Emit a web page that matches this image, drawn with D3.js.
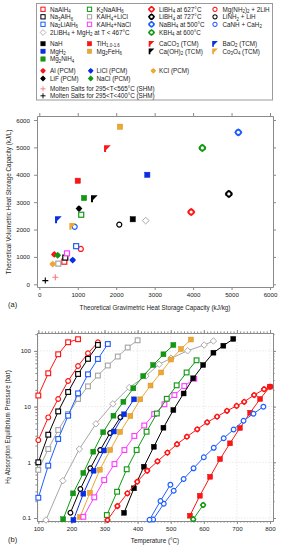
<!DOCTYPE html>
<html><head><meta charset="utf-8">
<script src="https://cdn.jsdelivr.net/npm/d3@7"></script>
<style>body{margin:0;background:#fff}svg{display:block;font-family:"Liberation Sans",Arial,sans-serif}</style>
</head><body><svg id="c" width="283" height="550"></svg>
<script>
// ---------------- DATA: panel (a) ----------------
const materials = ["NaAlH4","K2NaAlH6","LiBH4 627","Mg(NH2)2+2LiH","Na3AlH6","KAlH4+LiCl","LiBH4 727","LiNH2+LiH",
  "Na2LiAlH6","KAlH4+NaCl","NaBH4 500","CaNH+CaH2","2LiBH4+MgH2","KBH4 600","NaH","TiH","CaCO3","BaO2","MgH2",
  "Mg2FeH6","Ca(OH)2","Co3O4","Mg2NiH4","Al","LiCl","KCl","LiF","NaCl","Molten565","Molten400"];
const gravimetric = [650,1090,3950,1080,676,494,4930,2080,958,720,5176,920,2767,4240,2430,1000,1770,495,2809,
  2099,1430,868,1163,390,868,348,1032,478,416,156];
const volumetric = [825,2540,2640,1290,975,755,3300,2180,1393,1130,5550,2100,2327,4980,2375,3782,4960,2364,4000,
  5756,3130,2120,3152,1090,884,740,2764,1060,255,135];
const xTicksA = [0,1000,2000,3000,4000,5000,6000];
const yTicksA = [0,1000,2000,3000,4000,5000,6000];

// ---------------- DATA: panel (b) ----------------
const tNaAlH4=[100,130,160,190,220], pNaAlH4=[15.8,39.6,87,143,162];
const tMgNH2=[100,130,160,190,220,250,280], pMgNH2=[2.5,6.4,13.7,28.8,53.5,90.6,143];
const tNa3AlH6=[100,130,160,190,220,250,280], pNa3AlH6=[1.0,3.13,8.2,18.3,38.5,72,128];
const tKAlLiCl=[100,130,160,190,220,250,280,310,340,370,400], pKAlLiCl=[0.73,1.73,3.8,7.36,13.7,23.1,36.1,54.7,79.3,115,155];
const tNa2LiAlH6=[100,130,160,190,220,250,280,310], pNa2LiAlH6=[0.231,0.87,2.62,6.87,17.3,38,71.6,133];
const tLiBMg=[123,174,224,274,325,375,425,465,501,551,601,629], pLiBMg=[0.092,0.467,1.73,4.9,11.2,22,35.5,57.5,73.6,100.7,127.6,150.6];
const tMg2NiH4=[175,205,236,266,296,327,357,387,417,447,478,508], pMg2NiH4=[0.095,0.277,0.643,1.55,3.46,6.87,12.2,21.3,35.4,55.8,86.9,127.6];
const tLiNH2=[197,227,257,287,317,348], pLiNH2=[0.124,0.332,0.78,1.66,3.36,6.43];
const tMgH2=[206,236,267,298,328,359,389], pMgH2=[0.092,0.273,0.706,1.63,3.57,7.27,13.5];
const tMg2FeH6=[226,256,286,317,347,378,408,439,471,501,531,561], pMg2FeH6=[0.104,0.284,0.736,1.66,3.5,6.78,13.5,23.9,41,70,108,160];
const tKAlNaCl=[236,269,299,330,360,390,420,450,481,511,541,571], pKAlNaCl=[0.105,0.235,0.48,0.93,1.66,2.97,4.58,7.36,11.0,16.1,23.4,31.6];
const tK2NaAlH6=[307,338,367,397,427,458,488,518,548,578], pK2NaAlH6=[0.113,0.296,0.749,1.66,3.54,7.52,13.8,24.1,41,67.8];
const tNaH=[359,389,419,449,478,508,539,568,598,629,659,689], pNaH=[0.124,0.341,0.834,1.9,4.18,8.69,17.2,32.2,55.8,92.9,124,164];
const tLiBH4=[309,339,369,399,429,460,490,519,549,580,610,640,670,699,722,752,782,800],
      pLiBH4=[0.092,0.164,0.277,0.449,0.706,1.04,1.49,2.11,2.88,3.91,5.22,6.6,8.4,10.3,12.2,16.1,20.5,22.8];
const tTiH=[558,588,619,649,679,709,740,770,800], pTiH=[0.11,0.251,0.55,1.14,2.19,4.13,7.77,13.7,22.8];
const tNaBH4=[447,479,509,539,569,600,630,660,690,720,750,780], pNaBH4=[0.094,0.18,0.308,0.501,0.78,1.23,1.82,2.7,3.88,5.58,7.46,9.96];
const tCaNH=[436,469,499], pCaNH=[0.093,0.202,0.396];
const tKBH4=[568,598], pKBH4=[0.095,0.171];
const xTicksB=[100,200,300,400,500,600,700,800];
const yTicksB=[0.1,1,10,100];

// ---------------- STYLE ----------------
const C={red:'#ff1414',black:'#000',blue:'#1f5fff',gray:'#a6a6a6',green:'#119911',orange:'#eda832',
  magenta:'#ff3cff',dblue:'#0a2ee6',lred:'#ff7878'};
const styleA={"NaAlH4":['sq',C.red],"K2NaAlH6":['sq',C.green],"LiBH4 627":['ring',C.red],"Mg(NH2)2+2LiH":['ci',C.red],
 "Na3AlH6":['sq',C.black],"KAlH4+LiCl":['sq',C.gray],"LiBH4 727":['ring',C.black],"LiNH2+LiH":['ci',C.black],
 "Na2LiAlH6":['sq',C.blue],"KAlH4+NaCl":['sq',C.magenta],"NaBH4 500":['ring',C.blue],"CaNH+CaH2":['ci',C.blue],
 "2LiBH4+MgH2":['dia',C.gray],"KBH4 600":['ring',C.green],"NaH":['sqf',C.black],"TiH":['sqf',C.red],
 "CaCO3":['flag',C.red],"BaO2":['flag',C.dblue],"MgH2":['sqf',C.dblue],"Mg2FeH6":['sqf',C.orange],
 "Ca(OH)2":['flag',C.black],"Co3O4":['flag',C.orange],"Mg2NiH4":['sqf',C.green],"Al":['pcm',C.red],
 "LiCl":['pcm',C.dblue],"KCl":['pcm',C.orange],"LiF":['pcm',C.black],"NaCl":['pcm',C.green],
 "Molten565":['plus',C.lred],"Molten400":['plus',C.black]};

const svg=d3.select('#c');
svg.append('rect').attr('width',283).attr('height',550).attr('fill','#fff');

function octa(r){const p=[];for(let i=0;i<8;i++){const a=Math.PI/8+i*Math.PI/4;p.push([r*Math.cos(a),r*Math.sin(a)]);}return 'M'+p.map(d=>d.join(',')).join('L')+'Z';}
function marker(g,type,color,x,y,k){
  k=k||1;
  const m=g.append('g').attr('transform',`translate(${x},${y}) scale(${k})`);
  if(type==='sq') m.append('rect').attr('x',-2.5).attr('y',-2.5).attr('width',5).attr('height',5).attr('fill','#fff').attr('stroke',color).attr('stroke-width',1.2);
  else if(type==='sqf') m.append('rect').attr('x',-2.6).attr('y',-2.6).attr('width',5.2).attr('height',5.2).attr('fill',color).attr('stroke',d3.color(color).darker(0.4)).attr('stroke-width',0.5);
  else if(type==='ci') m.append('circle').attr('r',2.5).attr('fill','#fff').attr('stroke',color).attr('stroke-width',1.2);
  else if(type==='ring'){m.append('path').attr('d',octa(3.6)).attr('fill',color);
    m.append('path').attr('d','M0,-4.2L4.2,0L0,4.2L-4.2,0Z').attr('fill',color);
    m.append('circle').attr('r',1.6).attr('fill','#fff');}
  else if(type==='dia') m.append('path').attr('d','M0,-3.4L3.4,0L0,3.4L-3.4,0Z').attr('fill','#fff').attr('stroke',color).attr('stroke-width',1);
  else if(type==='flag') m.append('path').attr('d','M-3.3,-3.3H3.4L-1.3,1.4V3.6H-3.3Z').attr('fill',color);
  else if(type==='pcm'){m.append('path').attr('d','M0,-3.4L3.4,0L0,3.4L-3.4,0Z').attr('fill',color);
    m.append('circle').attr('r',2.3).attr('fill',color);}
  else if(type==='plus') m.append('path').attr('d','M-3,0H3M0,-3V3').attr('stroke',color).attr('stroke-width',1.1);
}
function richText(g,x,y,str,size,anchor){
  const t=g.append('text').attr('x',x).attr('y',y).attr('font-size',size).attr('fill','#222');
  if(anchor) t.attr('text-anchor',anchor);
  const parts=str.split(/(\{[^}]*\})/).filter(p=>p);
  let shifted=false;
  parts.forEach(p=>{
    if(p[0]==='{'){ t.append('tspan').attr('font-size',size*0.7).attr('dy',shifted?0:size*0.25).text(p.slice(1,-1)); shifted=true; }
    else { const s=t.append('tspan').text(p); if(shifted){ s.attr('dy',-size*0.25); shifted=false; } }
  });
  return t;
}

// ---------------- LEGEND ----------------
const lg=svg.append('g');
lg.append('rect').attr('x',36.5).attr('y',3.5).attr('width',236).attr('height',96.5).attr('fill','#fff').attr('stroke','#9a9a9a').attr('stroke-width',1);
const colM=[43,89.5,151.5,215], colT=[50,96.5,159,222.5];
const rowY=[9.3,16.8,24.3,32.5,43.7,51.3,59,70.8,78.5,88.8,95.8];
const legend=[
 [0,0,'sq',C.red,'NaAlH{4}'],[0,1,'sq',C.green,'K{2}NaAlH{6}'],[0,2,'ring',C.red,'LiBH{4} at 627°C'],[0,3,'ci',C.red,'Mg(NH{2}){2} + 2LiH'],
 [1,0,'sq',C.black,'Na{3}AlH{6}'],[1,1,'sq',C.gray,'KAlH{4}+LiCl'],[1,2,'ring',C.black,'LiBH{4} at 727°C'],[1,3,'ci',C.black,'LiNH{2} + LiH'],
 [2,0,'sq',C.blue,'Na{2}LiAlH{6}'],[2,1,'sq',C.magenta,'KAlH{4}+NaCl'],[2,2,'ring',C.blue,'NaBH{4} at 500°C'],[2,3,'ci',C.blue,'CaNH + CaH{2}'],
 [3,0,'dia',C.gray,'2LiBH{4} + MgH{2} at T < 467°C'],[3,2,'ring',C.green,'KBH{4} at 600°C'],
 [4,0,'sqf',C.black,'NaH'],[4,1,'sqf',C.red,'TiH{1.0-1.6}'],[4,2,'flag',C.red,'CaCO{3} (TCM)'],[4,3,'flag',C.dblue,'BaO{2} (TCM)'],
 [5,0,'sqf',C.dblue,'MgH{2}'],[5,1,'sqf',C.orange,'Mg{2}FeH{6}'],[5,2,'flag',C.black,'Ca(OH){2} (TCM)'],[5,3,'flag',C.orange,'Co{3}O{4} (TCM)'],
 [6,0,'sqf',C.green,'Mg{2}NiH{4}'],
 [7,0,'pcm',C.red,'Al (PCM)'],[7,1,'pcm',C.dblue,'LiCl (PCM)'],[7,2,'pcm',C.orange,'KCl (PCM)'],
 [8,0,'pcm',C.black,'LiF (PCM)'],[8,1,'pcm',C.green,'NaCl (PCM)'],
 [9,0,'plus',C.lred,'Molten Salts for 295<T<565°C (SHM)'],[10,0,'plus',C.black,'Molten Salts for 295<T<400°C (SHM)']];
legend.forEach(([r,c,ty,col,txt])=>{
  const mx = (r>=7 && c===1)?90.7:(r>=7 && c===2)?153.3:colM[c];
  marker(lg,ty,col,mx,rowY[r],0.85);
  richText(lg,colT[c],rowY[r]+2.2,txt,6.3);
});

// ---------------- PANEL (a) ----------------
const xA=d3.scaleLinear().domain([-60,6078]).range([37,273]);
const yA=d3.scaleLinear().domain([-99,6147]).range([287,116]);
const ga=svg.append('g');
function styleAxis(sel){sel.selectAll('.domain').attr('stroke','#8a8a8a');sel.selectAll('.tick line').attr('stroke','#8a8a8a');
  sel.selectAll('text').attr('fill','#222').attr('font-family','"Liberation Sans",Arial,sans-serif');}
ga.append('g').attr('transform','translate(0,287)').call(d3.axisBottom(xA).tickValues(xTicksA).tickFormat(d3.format('d')).tickSize(3).tickSizeOuter(0).tickPadding(3)).call(styleAxis).attr('font-size',6.2);
ga.append('g').attr('transform','translate(0,116)').call(d3.axisTop(xA).tickValues(xTicksA).tickFormat('').tickSize(3).tickSizeOuter(0)).call(styleAxis);
ga.append('g').attr('transform','translate(37,0)').call(d3.axisLeft(yA).tickValues(yTicksA).tickFormat(d3.format('d')).tickSize(3).tickSizeOuter(0).tickPadding(4)).call(styleAxis).attr('font-size',6.2);
ga.append('g').attr('transform','translate(273,0)').call(d3.axisRight(yA).tickValues(yTicksA).tickFormat('').tickSize(3).tickSizeOuter(0)).call(styleAxis);
materials.forEach((m,i)=>{const s=styleA[m]; marker(ga,s[0],s[1],xA(gravimetric[i]),yA(volumetric[i]),1);});
ga.append('text').attr('x',155).attr('y',310).attr('text-anchor','middle').attr('font-size',6.3).attr('fill','#222').text('Theoretical Gravimetric Heat Storage Capacity (kJ/kg)');
ga.append('text').attr('transform','translate(10.5,202) rotate(-90)').attr('text-anchor','middle').attr('font-size',6.3).attr('fill','#222').text('Theoretical Volumetric Heat Storage Capacity (kJ/L)');
ga.append('text').attr('x',8).attr('y',306.5).attr('font-size',7.5).attr('fill','#222').text('(a)');

// ---------------- PANEL (b) ----------------
const xB=d3.scaleLinear().domain([96,809]).range([37,273]);
const yB=d3.scaleLog().domain([0.0883,209.6]).range([521,333]);
const gb=svg.append('g');
const minorX=d3.range(100,810,10);
const minorY=[];[0.1,1,10,100].forEach(d=>{for(let k=1;k<10;k++){const v=d*k;if(v>=0.0883&&v<=209.6)minorY.push(v);}});
gb.append('g').selectAll('line').data(xTicksB).join('line').attr('x1',d=>xB(d)).attr('x2',d=>xB(d)).attr('y1',333).attr('y2',521)
  .attr('stroke','#dcdcdc').attr('stroke-width',0.6).attr('stroke-dasharray','1.5,1.5');
gb.append('g').selectAll('line').data(yTicksB).join('line').attr('y1',d=>yB(d)).attr('y2',d=>yB(d)).attr('x1',37).attr('x2',273)
  .attr('stroke','#dcdcdc').attr('stroke-width',0.6).attr('stroke-dasharray','1.5,1.5');
gb.append('g').attr('transform','translate(0,521)').call(d3.axisBottom(xB).tickValues(minorX).tickFormat('').tickSize(1.6).tickSizeOuter(0)).call(styleAxis);
gb.append('g').attr('transform','translate(0,521)').call(d3.axisBottom(xB).tickValues(xTicksB).tickFormat(d3.format('d')).tickSize(3).tickSizeOuter(0).tickPadding(3)).call(styleAxis).attr('font-size',6.2);
gb.append('g').attr('transform','translate(0,333)').call(d3.axisTop(xB).tickValues(minorX).tickFormat('').tickSize(1.6).tickSizeOuter(0)).call(styleAxis);
gb.append('g').attr('transform','translate(0,333)').call(d3.axisTop(xB).tickValues(xTicksB).tickFormat('').tickSize(3).tickSizeOuter(0)).call(styleAxis);
gb.append('g').attr('transform','translate(37,0)').call(d3.axisLeft(yB).tickValues(minorY).tickFormat('').tickSize(1.6).tickSizeOuter(0)).call(styleAxis);
gb.append('g').attr('transform','translate(37,0)').call(d3.axisLeft(yB).tickValues(yTicksB).tickFormat(d=>String(d)).tickSize(3).tickSizeOuter(0).tickPadding(3)).call(styleAxis).attr('font-size',6.2);
gb.append('g').attr('transform','translate(273,0)').call(d3.axisRight(yB).tickValues(minorY).tickFormat('').tickSize(1.6).tickSizeOuter(0)).call(styleAxis);
gb.append('g').attr('transform','translate(273,0)').call(d3.axisRight(yB).tickValues(yTicksB).tickFormat('').tickSize(3).tickSizeOuter(0)).call(styleAxis);

const seriesB=[
 [tKAlLiCl,pKAlLiCl,'sq',C.gray],[tLiBMg,pLiBMg,'dia',C.gray],
 [tNaAlH4,pNaAlH4,'sq',C.red],[tMgNH2,pMgNH2,'ci',C.red],[tNa3AlH6,pNa3AlH6,'sq',C.black],
 [tNa2LiAlH6,pNa2LiAlH6,'sq',C.blue],[tMg2NiH4,pMg2NiH4,'sqf',C.green],
 [tLiNH2,pLiNH2,'ci',C.black],[tMgH2,pMgH2,'sqf',C.dblue],[tMg2FeH6,pMg2FeH6,'sqf',C.orange],
 [tKAlNaCl,pKAlNaCl,'sq',C.magenta],[tK2NaAlH6,pK2NaAlH6,'sq',C.green],[tNaH,pNaH,'sqf',C.black],
 [tLiBH4,pLiBH4,'ring',C.red],[tTiH,pTiH,'sqf',C.red],[tNaBH4,pNaBH4,'ci',C.blue],[tCaNH,pCaNH,'ci',C.blue],
 [tKBH4,pKBH4,'ring',C.green]];
const line=d3.line().x(d=>xB(d[0])).y(d=>yB(d[1]));
seriesB.forEach(([t,p,ty,col])=>{
  const pts=t.map((v,i)=>[v,p[i]]);
  gb.append('path').attr('d',line(pts)).attr('fill','none').attr('stroke',col).attr('stroke-width',1);
  pts.forEach(d=>marker(gb,ty,col,xB(d[0]),yB(d[1]),ty==='ring'?0.8:0.95));
});
gb.append('text').attr('x',155).attr('y',543).attr('text-anchor','middle').attr('font-size',6.3).attr('fill','#222').text('Temperature (°C)');
const yt=gb.append('text').attr('transform','translate(9.5,427) rotate(-90)').attr('text-anchor','middle').attr('font-size',6.3).attr('fill','#222');
yt.append('tspan').text('H');yt.append('tspan').attr('font-size',4.5).attr('dy',1.6).text('2');
yt.append('tspan').attr('dy',-1.6).text(' Absorption Equilibrium Pressure (bar)');
gb.append('text').attr('x',8).attr('y',542).attr('font-size',7.5).attr('fill','#222').text('(b)');
</script></body></html>
